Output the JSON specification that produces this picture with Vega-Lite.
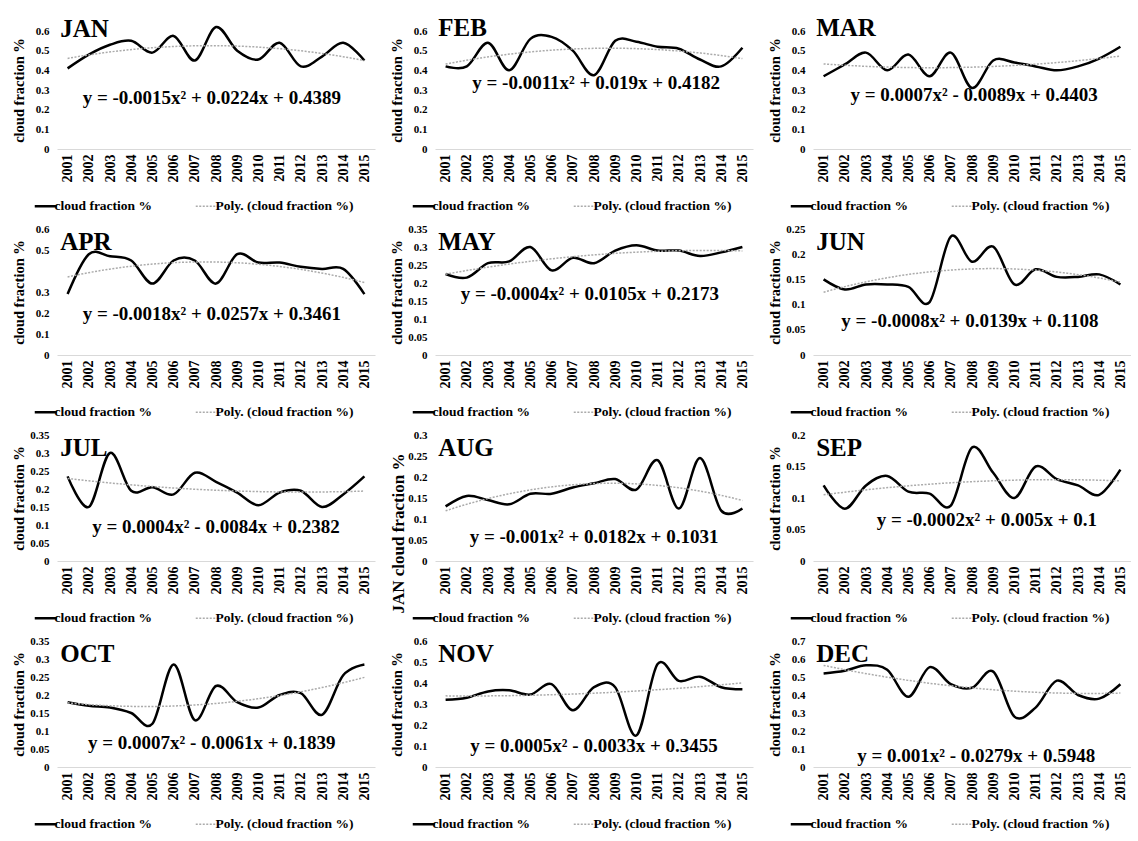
{
"$schema": "https://vega.github.io/schema/vega-lite/v6.json",
"background": "white",
"padding": {"left": 11, "top": 15, "right": 0, "bottom": 0},
"config": {
  "view": {"stroke": null},
  "font": "Liberation Serif",
  "axis": {"labelFont": "Liberation Serif", "labelFontWeight": "bold", "titleFont": "Liberation Serif", "titleFontWeight": "bold", "labelColor": "#000000", "titleColor": "#000000", "ticks": false, "grid": false},
  "axisX": {"labelAngle": -90, "labelFontSize": 14, "domainColor": "#d9d9d9", "domainWidth": 1, "labelPadding": 5, "labelOverlap": false, "labelFlush": false},
  "axisY": {"domain": false, "labelFontSize": 11, "titleFontSize": 14.5, "labelPadding": 8, "titlePadding": 6, "minExtent": 25, "maxExtent": 25, "labelOverlap": false},
  "legend": {"labelFont": "Liberation Serif", "labelFontWeight": "bold", "labelFontSize": 13.5, "labelColor": "#000000", "symbolType": "stroke", "symbolSize": 484, "symbolStrokeWidth": 2.5, "columnPadding": 40, "labelOffset": 2, "labelLimit": 300, "padding": 0},
  "text": {"font": "Liberation Serif", "fontWeight": "bold", "color": "#000000"}
},
"datasets": {
  "d": [
    {"m":"JAN","year":2001,"v":0.41},{"m":"JAN","year":2002,"v":0.48},{"m":"JAN","year":2003,"v":0.53},{"m":"JAN","year":2004,"v":0.55},{"m":"JAN","year":2005,"v":0.49},{"m":"JAN","year":2006,"v":0.575},{"m":"JAN","year":2007,"v":0.45},{"m":"JAN","year":2008,"v":0.62},{"m":"JAN","year":2009,"v":0.5},{"m":"JAN","year":2010,"v":0.455},{"m":"JAN","year":2011,"v":0.54},{"m":"JAN","year":2012,"v":0.42},{"m":"JAN","year":2013,"v":0.47},{"m":"JAN","year":2014,"v":0.54},{"m":"JAN","year":2015,"v":0.45},
    {"m":"FEB","year":2001,"v":0.42},{"m":"FEB","year":2002,"v":0.42},{"m":"FEB","year":2003,"v":0.54},{"m":"FEB","year":2004,"v":0.4},{"m":"FEB","year":2005,"v":0.56},{"m":"FEB","year":2006,"v":0.57},{"m":"FEB","year":2007,"v":0.5},{"m":"FEB","year":2008,"v":0.375},{"m":"FEB","year":2009,"v":0.55},{"m":"FEB","year":2010,"v":0.545},{"m":"FEB","year":2011,"v":0.52},{"m":"FEB","year":2012,"v":0.51},{"m":"FEB","year":2013,"v":0.455},{"m":"FEB","year":2014,"v":0.42},{"m":"FEB","year":2015,"v":0.515},
    {"m":"MAR","year":2001,"v":0.37},{"m":"MAR","year":2002,"v":0.43},{"m":"MAR","year":2003,"v":0.49},{"m":"MAR","year":2004,"v":0.4},{"m":"MAR","year":2005,"v":0.48},{"m":"MAR","year":2006,"v":0.37},{"m":"MAR","year":2007,"v":0.49},{"m":"MAR","year":2008,"v":0.31},{"m":"MAR","year":2009,"v":0.45},{"m":"MAR","year":2010,"v":0.44},{"m":"MAR","year":2011,"v":0.42},{"m":"MAR","year":2012,"v":0.4},{"m":"MAR","year":2013,"v":0.42},{"m":"MAR","year":2014,"v":0.46},{"m":"MAR","year":2015,"v":0.52},
    {"m":"APR","year":2001,"v":0.29},{"m":"APR","year":2002,"v":0.48},{"m":"APR","year":2003,"v":0.47},{"m":"APR","year":2004,"v":0.45},{"m":"APR","year":2005,"v":0.34},{"m":"APR","year":2006,"v":0.45},{"m":"APR","year":2007,"v":0.45},{"m":"APR","year":2008,"v":0.34},{"m":"APR","year":2009,"v":0.48},{"m":"APR","year":2010,"v":0.44},{"m":"APR","year":2011,"v":0.44},{"m":"APR","year":2012,"v":0.42},{"m":"APR","year":2013,"v":0.41},{"m":"APR","year":2014,"v":0.41},{"m":"APR","year":2015,"v":0.29},
    {"m":"MAY","year":2001,"v":0.225},{"m":"MAY","year":2002,"v":0.215},{"m":"MAY","year":2003,"v":0.255},{"m":"MAY","year":2004,"v":0.26},{"m":"MAY","year":2005,"v":0.3},{"m":"MAY","year":2006,"v":0.235},{"m":"MAY","year":2007,"v":0.27},{"m":"MAY","year":2008,"v":0.255},{"m":"MAY","year":2009,"v":0.29},{"m":"MAY","year":2010,"v":0.305},{"m":"MAY","year":2011,"v":0.29},{"m":"MAY","year":2012,"v":0.29},{"m":"MAY","year":2013,"v":0.275},{"m":"MAY","year":2014,"v":0.285},{"m":"MAY","year":2015,"v":0.3},
    {"m":"JUN","year":2001,"v":0.15},{"m":"JUN","year":2002,"v":0.13},{"m":"JUN","year":2003,"v":0.14},{"m":"JUN","year":2004,"v":0.14},{"m":"JUN","year":2005,"v":0.135},{"m":"JUN","year":2006,"v":0.105},{"m":"JUN","year":2007,"v":0.235},{"m":"JUN","year":2008,"v":0.185},{"m":"JUN","year":2009,"v":0.215},{"m":"JUN","year":2010,"v":0.14},{"m":"JUN","year":2011,"v":0.17},{"m":"JUN","year":2012,"v":0.155},{"m":"JUN","year":2013,"v":0.155},{"m":"JUN","year":2014,"v":0.16},{"m":"JUN","year":2015,"v":0.14},
    {"m":"JUL","year":2001,"v":0.235},{"m":"JUL","year":2002,"v":0.15},{"m":"JUL","year":2003,"v":0.3},{"m":"JUL","year":2004,"v":0.195},{"m":"JUL","year":2005,"v":0.205},{"m":"JUL","year":2006,"v":0.185},{"m":"JUL","year":2007,"v":0.245},{"m":"JUL","year":2008,"v":0.22},{"m":"JUL","year":2009,"v":0.19},{"m":"JUL","year":2010,"v":0.155},{"m":"JUL","year":2011,"v":0.19},{"m":"JUL","year":2012,"v":0.195},{"m":"JUL","year":2013,"v":0.15},{"m":"JUL","year":2014,"v":0.185},{"m":"JUL","year":2015,"v":0.235},
    {"m":"AUG","year":2001,"v":0.13},{"m":"AUG","year":2002,"v":0.155},{"m":"AUG","year":2003,"v":0.145},{"m":"AUG","year":2004,"v":0.135},{"m":"AUG","year":2005,"v":0.16},{"m":"AUG","year":2006,"v":0.16},{"m":"AUG","year":2007,"v":0.175},{"m":"AUG","year":2008,"v":0.185},{"m":"AUG","year":2009,"v":0.195},{"m":"AUG","year":2010,"v":0.17},{"m":"AUG","year":2011,"v":0.24},{"m":"AUG","year":2012,"v":0.125},{"m":"AUG","year":2013,"v":0.245},{"m":"AUG","year":2014,"v":0.12},{"m":"AUG","year":2015,"v":0.125},
    {"m":"SEP","year":2001,"v":0.12},{"m":"SEP","year":2002,"v":0.083},{"m":"SEP","year":2003,"v":0.12},{"m":"SEP","year":2004,"v":0.135},{"m":"SEP","year":2005,"v":0.11},{"m":"SEP","year":2006,"v":0.107},{"m":"SEP","year":2007,"v":0.088},{"m":"SEP","year":2008,"v":0.18},{"m":"SEP","year":2009,"v":0.14},{"m":"SEP","year":2010,"v":0.1},{"m":"SEP","year":2011,"v":0.15},{"m":"SEP","year":2012,"v":0.13},{"m":"SEP","year":2013,"v":0.12},{"m":"SEP","year":2014,"v":0.105},{"m":"SEP","year":2015,"v":0.145},
    {"m":"OCT","year":2001,"v":0.18},{"m":"OCT","year":2002,"v":0.17},{"m":"OCT","year":2003,"v":0.165},{"m":"OCT","year":2004,"v":0.15},{"m":"OCT","year":2005,"v":0.12},{"m":"OCT","year":2006,"v":0.285},{"m":"OCT","year":2007,"v":0.13},{"m":"OCT","year":2008,"v":0.225},{"m":"OCT","year":2009,"v":0.18},{"m":"OCT","year":2010,"v":0.165},{"m":"OCT","year":2011,"v":0.2},{"m":"OCT","year":2012,"v":0.205},{"m":"OCT","year":2013,"v":0.145},{"m":"OCT","year":2014,"v":0.255},{"m":"OCT","year":2015,"v":0.285},
    {"m":"NOV","year":2001,"v":0.32},{"m":"NOV","year":2002,"v":0.33},{"m":"NOV","year":2003,"v":0.36},{"m":"NOV","year":2004,"v":0.365},{"m":"NOV","year":2005,"v":0.345},{"m":"NOV","year":2006,"v":0.395},{"m":"NOV","year":2007,"v":0.27},{"m":"NOV","year":2008,"v":0.38},{"m":"NOV","year":2009,"v":0.38},{"m":"NOV","year":2010,"v":0.15},{"m":"NOV","year":2011,"v":0.49},{"m":"NOV","year":2012,"v":0.41},{"m":"NOV","year":2013,"v":0.43},{"m":"NOV","year":2014,"v":0.38},{"m":"NOV","year":2015,"v":0.37},
    {"m":"DEC","year":2001,"v":0.52},{"m":"DEC","year":2002,"v":0.535},{"m":"DEC","year":2003,"v":0.565},{"m":"DEC","year":2004,"v":0.54},{"m":"DEC","year":2005,"v":0.39},{"m":"DEC","year":2006,"v":0.555},{"m":"DEC","year":2007,"v":0.46},{"m":"DEC","year":2008,"v":0.44},{"m":"DEC","year":2009,"v":0.53},{"m":"DEC","year":2010,"v":0.28},{"m":"DEC","year":2011,"v":0.33},{"m":"DEC","year":2012,"v":0.48},{"m":"DEC","year":2013,"v":0.4},{"m":"DEC","year":2014,"v":0.38},{"m":"DEC","year":2015,"v":0.46}
  ],
  "lab": [
    {"m":"JAN","eq":"y = -0.0015x² + 0.0224x + 0.4389"},
    {"m":"FEB","eq":"y = -0.0011x² + 0.019x + 0.4182"},
    {"m":"MAR","eq":"y = 0.0007x² - 0.0089x + 0.4403"},
    {"m":"APR","eq":"y = -0.0018x² + 0.0257x + 0.3461"},
    {"m":"MAY","eq":"y = -0.0004x² + 0.0105x + 0.2173"},
    {"m":"JUN","eq":"y = -0.0008x² + 0.0139x + 0.1108"},
    {"m":"JUL","eq":"y = 0.0004x² - 0.0084x + 0.2382"},
    {"m":"AUG","eq":"y = -0.001x² + 0.0182x + 0.1031"},
    {"m":"SEP","eq":"y = -0.0002x² + 0.005x + 0.1"},
    {"m":"OCT","eq":"y = 0.0007x² - 0.0061x + 0.1839"},
    {"m":"NOV","eq":"y = 0.0005x² - 0.0033x + 0.3455"},
    {"m":"DEC","eq":"y = 0.001x² - 0.0279x + 0.5948"}
  ]
},
"spacing": 10,
"resolve": {"scale": {"x": "independent", "y": "independent", "color": "independent"}, "axis": {"x": "independent", "y": "independent"}, "legend": {"color": "independent"}},
"vconcat": [
 {"spacing": 14,
  "resolve": {"scale": {"x": "independent", "y": "independent", "color": "independent"}, "axis": {"x": "independent", "y": "independent"}, "legend": {"color": "independent"}},
  "hconcat": [
   {"width": 318, "height": 118, "layer": [
     {"data": {"name": "d"}, "transform": [{"filter": "datum.m === 'JAN'"}], "mark": {"type": "line", "interpolate": "cardinal", "strokeWidth": 2.5},
      "encoding": {
       "color": {"datum": "cloud fraction %", "scale": {"domain": ["cloud fraction %", "Poly. (cloud fraction %)"], "range": ["#000000", "#ababab"]}, "legend": {"title": null, "orient": "none", "direction": "horizontal", "legendX": -18, "legendY": 168, "encode": {"symbols": {"update": {"strokeDash": {"signal": "datum.value === 'cloud fraction %' ? [1, 0] : [2, 1.5]"}, "strokeWidth": {"signal": "datum.value === 'cloud fraction %' ? 2.5 : 1.5"}}}}}},
       "x": {"field": "year", "type": "quantitative", "scale": {"domain": [2000.5, 2015.5], "nice": false, "zero": false}, "axis": {"values": [2001,2002,2003,2004,2005,2006,2007,2008,2009,2010,2011,2012,2013,2014,2015], "tickCount": 15, "format": "d", "title": null, "labelOverlap": false}},
       "y": {"field": "v", "type": "quantitative", "scale": {"domain": [0, 0.6], "nice": false}, "axis": {"values": [0,0.1,0.2,0.3,0.4,0.5,0.6], "tickCount": 10, "format": "~g", "title": "cloud fraction %", "labelOverlap": false}}
      }},
     {"data": {"name": "d"}, "transform": [{"filter": "datum.m === 'JAN'"}, {"regression": "v", "on": "year", "method": "poly", "order": 2, "extent": [2001, 2015]}], "mark": {"type": "line", "strokeWidth": 1.5, "strokeDash": [2, 1.5]},
      "encoding": {"x": {"field": "year", "type": "quantitative"}, "y": {"field": "v", "type": "quantitative"}, "color": {"datum": "Poly. (cloud fraction %)"}}},
     {"data": {"name": "lab"}, "transform": [{"filter": "datum.m === 'JAN'"}], "mark": {"type": "text", "fontSize": 25, "align": "left", "baseline": "alphabetic"},
      "encoding": {"x": {"datum": 2000.65, "type": "quantitative"}, "y": {"datum": 0.57, "type": "quantitative"}, "text": {"field": "m"}}},
     {"data": {"name": "lab"}, "transform": [{"filter": "datum.m === 'JAN'"}], "mark": {"type": "text", "fontSize": 19, "align": "center", "baseline": "middle"},
      "encoding": {"x": {"datum": 2007.8, "type": "quantitative"}, "y": {"datum": 0.258, "type": "quantitative"}, "text": {"field": "eq"}}}
   ]},
   {"width": 318, "height": 118, "layer": [
     {"data": {"name": "d"}, "transform": [{"filter": "datum.m === 'FEB'"}], "mark": {"type": "line", "interpolate": "cardinal", "strokeWidth": 2.5},
      "encoding": {
       "color": {"datum": "cloud fraction %", "scale": {"domain": ["cloud fraction %", "Poly. (cloud fraction %)"], "range": ["#000000", "#ababab"]}, "legend": {"title": null, "orient": "none", "direction": "horizontal", "legendX": -18, "legendY": 168, "encode": {"symbols": {"update": {"strokeDash": {"signal": "datum.value === 'cloud fraction %' ? [1, 0] : [2, 1.5]"}, "strokeWidth": {"signal": "datum.value === 'cloud fraction %' ? 2.5 : 1.5"}}}}}},
       "x": {"field": "year", "type": "quantitative", "scale": {"domain": [2000.5, 2015.5], "nice": false, "zero": false}, "axis": {"values": [2001,2002,2003,2004,2005,2006,2007,2008,2009,2010,2011,2012,2013,2014,2015], "tickCount": 15, "format": "d", "title": null, "labelOverlap": false}},
       "y": {"field": "v", "type": "quantitative", "scale": {"domain": [0, 0.6], "nice": false}, "axis": {"values": [0,0.1,0.2,0.3,0.4,0.5,0.6], "tickCount": 10, "format": "~g", "title": "cloud fraction %", "labelOverlap": false}}
      }},
     {"data": {"name": "d"}, "transform": [{"filter": "datum.m === 'FEB'"}, {"regression": "v", "on": "year", "method": "poly", "order": 2, "extent": [2001, 2015]}], "mark": {"type": "line", "strokeWidth": 1.5, "strokeDash": [2, 1.5]},
      "encoding": {"x": {"field": "year", "type": "quantitative"}, "y": {"field": "v", "type": "quantitative"}, "color": {"datum": "Poly. (cloud fraction %)"}}},
     {"data": {"name": "lab"}, "transform": [{"filter": "datum.m === 'FEB'"}], "mark": {"type": "text", "fontSize": 25, "align": "left", "baseline": "alphabetic"},
      "encoding": {"x": {"datum": 2000.65, "type": "quantitative"}, "y": {"datum": 0.575, "type": "quantitative"}, "text": {"field": "m"}}},
     {"data": {"name": "lab"}, "transform": [{"filter": "datum.m === 'FEB'"}], "mark": {"type": "text", "fontSize": 19, "align": "center", "baseline": "middle"},
      "encoding": {"x": {"datum": 2008.1, "type": "quantitative"}, "y": {"datum": 0.337, "type": "quantitative"}, "text": {"field": "eq"}}}
   ]},
   {"width": 318, "height": 118, "layer": [
     {"data": {"name": "d"}, "transform": [{"filter": "datum.m === 'MAR'"}], "mark": {"type": "line", "interpolate": "cardinal", "strokeWidth": 2.5},
      "encoding": {
       "color": {"datum": "cloud fraction %", "scale": {"domain": ["cloud fraction %", "Poly. (cloud fraction %)"], "range": ["#000000", "#ababab"]}, "legend": {"title": null, "orient": "none", "direction": "horizontal", "legendX": -18, "legendY": 168, "encode": {"symbols": {"update": {"strokeDash": {"signal": "datum.value === 'cloud fraction %' ? [1, 0] : [2, 1.5]"}, "strokeWidth": {"signal": "datum.value === 'cloud fraction %' ? 2.5 : 1.5"}}}}}},
       "x": {"field": "year", "type": "quantitative", "scale": {"domain": [2000.5, 2015.5], "nice": false, "zero": false}, "axis": {"values": [2001,2002,2003,2004,2005,2006,2007,2008,2009,2010,2011,2012,2013,2014,2015], "tickCount": 15, "format": "d", "title": null, "labelOverlap": false}},
       "y": {"field": "v", "type": "quantitative", "scale": {"domain": [0, 0.6], "nice": false}, "axis": {"values": [0,0.1,0.2,0.3,0.4,0.5,0.6], "tickCount": 10, "format": "~g", "title": "cloud fraction %", "labelOverlap": false}}
      }},
     {"data": {"name": "d"}, "transform": [{"filter": "datum.m === 'MAR'"}, {"regression": "v", "on": "year", "method": "poly", "order": 2, "extent": [2001, 2015]}], "mark": {"type": "line", "strokeWidth": 1.5, "strokeDash": [2, 1.5]},
      "encoding": {"x": {"field": "year", "type": "quantitative"}, "y": {"field": "v", "type": "quantitative"}, "color": {"datum": "Poly. (cloud fraction %)"}}},
     {"data": {"name": "lab"}, "transform": [{"filter": "datum.m === 'MAR'"}], "mark": {"type": "text", "fontSize": 25, "align": "left", "baseline": "alphabetic"},
      "encoding": {"x": {"datum": 2000.65, "type": "quantitative"}, "y": {"datum": 0.575, "type": "quantitative"}, "text": {"field": "m"}}},
     {"data": {"name": "lab"}, "transform": [{"filter": "datum.m === 'MAR'"}], "mark": {"type": "text", "fontSize": 19, "align": "center", "baseline": "middle"},
      "encoding": {"x": {"datum": 2008.1, "type": "quantitative"}, "y": {"datum": 0.274, "type": "quantitative"}, "text": {"field": "eq"}}}
   ]}
  ]},
 {"spacing": 14,
  "resolve": {"scale": {"x": "independent", "y": "independent", "color": "independent"}, "axis": {"x": "independent", "y": "independent"}, "legend": {"color": "independent"}},
  "hconcat": [
   {"width": 318, "height": 126, "layer": [
     {"data": {"name": "d"}, "transform": [{"filter": "datum.m === 'APR'"}], "mark": {"type": "line", "interpolate": "cardinal", "strokeWidth": 2.5},
      "encoding": {
       "color": {"datum": "cloud fraction %", "scale": {"domain": ["cloud fraction %", "Poly. (cloud fraction %)"], "range": ["#000000", "#ababab"]}, "legend": {"title": null, "orient": "none", "direction": "horizontal", "legendX": -18, "legendY": 176, "encode": {"symbols": {"update": {"strokeDash": {"signal": "datum.value === 'cloud fraction %' ? [1, 0] : [2, 1.5]"}, "strokeWidth": {"signal": "datum.value === 'cloud fraction %' ? 2.5 : 1.5"}}}}}},
       "x": {"field": "year", "type": "quantitative", "scale": {"domain": [2000.5, 2015.5], "nice": false, "zero": false}, "axis": {"values": [2001,2002,2003,2004,2005,2006,2007,2008,2009,2010,2011,2012,2013,2014,2015], "tickCount": 15, "format": "d", "title": null, "labelOverlap": false}},
       "y": {"field": "v", "type": "quantitative", "scale": {"domain": [0, 0.6], "nice": false}, "axis": {"values": [0,0.1,0.2,0.3,0.5,0.6], "tickCount": 10, "format": "~g", "title": "cloud fraction %", "labelOverlap": false}}
      }},
     {"data": {"name": "d"}, "transform": [{"filter": "datum.m === 'APR'"}, {"regression": "v", "on": "year", "method": "poly", "order": 2, "extent": [2001, 2015]}], "mark": {"type": "line", "strokeWidth": 1.5, "strokeDash": [2, 1.5]},
      "encoding": {"x": {"field": "year", "type": "quantitative"}, "y": {"field": "v", "type": "quantitative"}, "color": {"datum": "Poly. (cloud fraction %)"}}},
     {"data": {"name": "lab"}, "transform": [{"filter": "datum.m === 'APR'"}], "mark": {"type": "text", "fontSize": 25, "align": "left", "baseline": "alphabetic"},
      "encoding": {"x": {"datum": 2000.65, "type": "quantitative"}, "y": {"datum": 0.5, "type": "quantitative"}, "text": {"field": "m"}}},
     {"data": {"name": "lab"}, "transform": [{"filter": "datum.m === 'APR'"}], "mark": {"type": "text", "fontSize": 19, "align": "center", "baseline": "middle"},
      "encoding": {"x": {"datum": 2007.8, "type": "quantitative"}, "y": {"datum": 0.195, "type": "quantitative"}, "text": {"field": "eq"}}}
   ]},
   {"width": 318, "height": 126, "layer": [
     {"data": {"name": "d"}, "transform": [{"filter": "datum.m === 'MAY'"}], "mark": {"type": "line", "interpolate": "cardinal", "strokeWidth": 2.5},
      "encoding": {
       "color": {"datum": "cloud fraction %", "scale": {"domain": ["cloud fraction %", "Poly. (cloud fraction %)"], "range": ["#000000", "#ababab"]}, "legend": {"title": null, "orient": "none", "direction": "horizontal", "legendX": -18, "legendY": 176, "encode": {"symbols": {"update": {"strokeDash": {"signal": "datum.value === 'cloud fraction %' ? [1, 0] : [2, 1.5]"}, "strokeWidth": {"signal": "datum.value === 'cloud fraction %' ? 2.5 : 1.5"}}}}}},
       "x": {"field": "year", "type": "quantitative", "scale": {"domain": [2000.5, 2015.5], "nice": false, "zero": false}, "axis": {"values": [2001,2002,2003,2004,2005,2006,2007,2008,2009,2010,2011,2012,2013,2014,2015], "tickCount": 15, "format": "d", "title": null, "labelOverlap": false}},
       "y": {"field": "v", "type": "quantitative", "scale": {"domain": [0, 0.35], "nice": false}, "axis": {"values": [0,0.05,0.1,0.15,0.2,0.25,0.3,0.35], "tickCount": 10, "format": "~g", "title": "cloud fraction %", "labelOverlap": false}}
      }},
     {"data": {"name": "d"}, "transform": [{"filter": "datum.m === 'MAY'"}, {"regression": "v", "on": "year", "method": "poly", "order": 2, "extent": [2001, 2015]}], "mark": {"type": "line", "strokeWidth": 1.5, "strokeDash": [2, 1.5]},
      "encoding": {"x": {"field": "year", "type": "quantitative"}, "y": {"field": "v", "type": "quantitative"}, "color": {"datum": "Poly. (cloud fraction %)"}}},
     {"data": {"name": "lab"}, "transform": [{"filter": "datum.m === 'MAY'"}], "mark": {"type": "text", "fontSize": 25, "align": "left", "baseline": "alphabetic"},
      "encoding": {"x": {"datum": 2000.65, "type": "quantitative"}, "y": {"datum": 0.292, "type": "quantitative"}, "text": {"field": "m"}}},
     {"data": {"name": "lab"}, "transform": [{"filter": "datum.m === 'MAY'"}], "mark": {"type": "text", "fontSize": 19, "align": "center", "baseline": "middle"},
      "encoding": {"x": {"datum": 2007.8, "type": "quantitative"}, "y": {"datum": 0.169, "type": "quantitative"}, "text": {"field": "eq"}}}
   ]},
   {"width": 318, "height": 126, "layer": [
     {"data": {"name": "d"}, "transform": [{"filter": "datum.m === 'JUN'"}], "mark": {"type": "line", "interpolate": "cardinal", "strokeWidth": 2.5},
      "encoding": {
       "color": {"datum": "cloud fraction %", "scale": {"domain": ["cloud fraction %", "Poly. (cloud fraction %)"], "range": ["#000000", "#ababab"]}, "legend": {"title": null, "orient": "none", "direction": "horizontal", "legendX": -18, "legendY": 176, "encode": {"symbols": {"update": {"strokeDash": {"signal": "datum.value === 'cloud fraction %' ? [1, 0] : [2, 1.5]"}, "strokeWidth": {"signal": "datum.value === 'cloud fraction %' ? 2.5 : 1.5"}}}}}},
       "x": {"field": "year", "type": "quantitative", "scale": {"domain": [2000.5, 2015.5], "nice": false, "zero": false}, "axis": {"values": [2001,2002,2003,2004,2005,2006,2007,2008,2009,2010,2011,2012,2013,2014,2015], "tickCount": 15, "format": "d", "title": null, "labelOverlap": false}},
       "y": {"field": "v", "type": "quantitative", "scale": {"domain": [0, 0.25], "nice": false}, "axis": {"values": [0,0.05,0.1,0.15,0.2,0.25], "tickCount": 10, "format": "~g", "title": "cloud fraction %", "labelOverlap": false}}
      }},
     {"data": {"name": "d"}, "transform": [{"filter": "datum.m === 'JUN'"}, {"regression": "v", "on": "year", "method": "poly", "order": 2, "extent": [2001, 2015]}], "mark": {"type": "line", "strokeWidth": 1.5, "strokeDash": [2, 1.5]},
      "encoding": {"x": {"field": "year", "type": "quantitative"}, "y": {"field": "v", "type": "quantitative"}, "color": {"datum": "Poly. (cloud fraction %)"}}},
     {"data": {"name": "lab"}, "transform": [{"filter": "datum.m === 'JUN'"}], "mark": {"type": "text", "fontSize": 25, "align": "left", "baseline": "alphabetic"},
      "encoding": {"x": {"datum": 2000.65, "type": "quantitative"}, "y": {"datum": 0.208, "type": "quantitative"}, "text": {"field": "m"}}},
     {"data": {"name": "lab"}, "transform": [{"filter": "datum.m === 'JUN'"}], "mark": {"type": "text", "fontSize": 19, "align": "center", "baseline": "middle"},
      "encoding": {"x": {"datum": 2007.9, "type": "quantitative"}, "y": {"datum": 0.067, "type": "quantitative"}, "text": {"field": "eq"}}}
   ]}
  ]},
 {"spacing": 14,
  "resolve": {"scale": {"x": "independent", "y": "independent", "color": "independent"}, "axis": {"x": "independent", "y": "independent"}, "legend": {"color": "independent"}},
  "hconcat": [
   {"width": 318, "height": 126, "layer": [
     {"data": {"name": "d"}, "transform": [{"filter": "datum.m === 'JUL'"}], "mark": {"type": "line", "interpolate": "cardinal", "strokeWidth": 2.5},
      "encoding": {
       "color": {"datum": "cloud fraction %", "scale": {"domain": ["cloud fraction %", "Poly. (cloud fraction %)"], "range": ["#000000", "#ababab"]}, "legend": {"title": null, "orient": "none", "direction": "horizontal", "legendX": -18, "legendY": 176, "encode": {"symbols": {"update": {"strokeDash": {"signal": "datum.value === 'cloud fraction %' ? [1, 0] : [2, 1.5]"}, "strokeWidth": {"signal": "datum.value === 'cloud fraction %' ? 2.5 : 1.5"}}}}}},
       "x": {"field": "year", "type": "quantitative", "scale": {"domain": [2000.5, 2015.5], "nice": false, "zero": false}, "axis": {"values": [2001,2002,2003,2004,2005,2006,2007,2008,2009,2010,2011,2012,2013,2014,2015], "tickCount": 15, "format": "d", "title": null, "labelOverlap": false}},
       "y": {"field": "v", "type": "quantitative", "scale": {"domain": [0, 0.35], "nice": false}, "axis": {"values": [0,0.05,0.1,0.15,0.2,0.25,0.3,0.35], "tickCount": 10, "format": "~g", "title": "cloud fraction %", "labelOverlap": false}}
      }},
     {"data": {"name": "d"}, "transform": [{"filter": "datum.m === 'JUL'"}, {"regression": "v", "on": "year", "method": "poly", "order": 2, "extent": [2001, 2015]}], "mark": {"type": "line", "strokeWidth": 1.5, "strokeDash": [2, 1.5]},
      "encoding": {"x": {"field": "year", "type": "quantitative"}, "y": {"field": "v", "type": "quantitative"}, "color": {"datum": "Poly. (cloud fraction %)"}}},
     {"data": {"name": "lab"}, "transform": [{"filter": "datum.m === 'JUL'"}], "mark": {"type": "text", "fontSize": 25, "align": "left", "baseline": "alphabetic"},
      "encoding": {"x": {"datum": 2000.65, "type": "quantitative"}, "y": {"datum": 0.292, "type": "quantitative"}, "text": {"field": "m"}}},
     {"data": {"name": "lab"}, "transform": [{"filter": "datum.m === 'JUL'"}], "mark": {"type": "text", "fontSize": 19, "align": "center", "baseline": "middle"},
      "encoding": {"x": {"datum": 2008.0, "type": "quantitative"}, "y": {"datum": 0.094, "type": "quantitative"}, "text": {"field": "eq"}}}
   ]},
   {"width": 318, "height": 126, "layer": [
     {"data": {"name": "d"}, "transform": [{"filter": "datum.m === 'AUG'"}], "mark": {"type": "line", "interpolate": "cardinal", "strokeWidth": 2.5},
      "encoding": {
       "color": {"datum": "cloud fraction %", "scale": {"domain": ["cloud fraction %", "Poly. (cloud fraction %)"], "range": ["#000000", "#ababab"]}, "legend": {"title": null, "orient": "none", "direction": "horizontal", "legendX": -18, "legendY": 176, "encode": {"symbols": {"update": {"strokeDash": {"signal": "datum.value === 'cloud fraction %' ? [1, 0] : [2, 1.5]"}, "strokeWidth": {"signal": "datum.value === 'cloud fraction %' ? 2.5 : 1.5"}}}}}},
       "x": {"field": "year", "type": "quantitative", "scale": {"domain": [2000.5, 2015.5], "nice": false, "zero": false}, "axis": {"values": [2001,2002,2003,2004,2005,2006,2007,2008,2009,2010,2011,2012,2013,2014,2015], "tickCount": 15, "format": "d", "title": null, "labelOverlap": false}},
       "y": {"field": "v", "type": "quantitative", "scale": {"domain": [0, 0.3], "nice": false}, "axis": {"values": [0,0.05,0.1,0.15,0.2,0.25,0.3], "tickCount": 10, "format": "~g", "title": "JAN cloud fraction %", "titleFontSize": 17, "titlePadding": 3, "titleY": 98, "labelOverlap": false}}
      }},
     {"data": {"name": "d"}, "transform": [{"filter": "datum.m === 'AUG'"}, {"regression": "v", "on": "year", "method": "poly", "order": 2, "extent": [2001, 2015]}], "mark": {"type": "line", "strokeWidth": 1.5, "strokeDash": [2, 1.5]},
      "encoding": {"x": {"field": "year", "type": "quantitative"}, "y": {"field": "v", "type": "quantitative"}, "color": {"datum": "Poly. (cloud fraction %)"}}},
     {"data": {"name": "lab"}, "transform": [{"filter": "datum.m === 'AUG'"}], "mark": {"type": "text", "fontSize": 25, "align": "left", "baseline": "alphabetic"},
      "encoding": {"x": {"datum": 2000.65, "type": "quantitative"}, "y": {"datum": 0.25, "type": "quantitative"}, "text": {"field": "m"}}},
     {"data": {"name": "lab"}, "transform": [{"filter": "datum.m === 'AUG'"}], "mark": {"type": "text", "fontSize": 19, "align": "center", "baseline": "middle"},
      "encoding": {"x": {"datum": 2008.0, "type": "quantitative"}, "y": {"datum": 0.057, "type": "quantitative"}, "text": {"field": "eq"}}}
   ]},
   {"width": 318, "height": 126, "layer": [
     {"data": {"name": "d"}, "transform": [{"filter": "datum.m === 'SEP'"}], "mark": {"type": "line", "interpolate": "cardinal", "strokeWidth": 2.5},
      "encoding": {
       "color": {"datum": "cloud fraction %", "scale": {"domain": ["cloud fraction %", "Poly. (cloud fraction %)"], "range": ["#000000", "#ababab"]}, "legend": {"title": null, "orient": "none", "direction": "horizontal", "legendX": -18, "legendY": 176, "encode": {"symbols": {"update": {"strokeDash": {"signal": "datum.value === 'cloud fraction %' ? [1, 0] : [2, 1.5]"}, "strokeWidth": {"signal": "datum.value === 'cloud fraction %' ? 2.5 : 1.5"}}}}}},
       "x": {"field": "year", "type": "quantitative", "scale": {"domain": [2000.5, 2015.5], "nice": false, "zero": false}, "axis": {"values": [2001,2002,2003,2004,2005,2006,2007,2008,2009,2010,2011,2012,2013,2014,2015], "tickCount": 15, "format": "d", "title": null, "labelOverlap": false}},
       "y": {"field": "v", "type": "quantitative", "scale": {"domain": [0, 0.2], "nice": false}, "axis": {"values": [0,0.05,0.1,0.15,0.2], "tickCount": 10, "format": "~g", "title": "cloud fraction %", "labelOverlap": false}}
      }},
     {"data": {"name": "d"}, "transform": [{"filter": "datum.m === 'SEP'"}, {"regression": "v", "on": "year", "method": "poly", "order": 2, "extent": [2001, 2015]}], "mark": {"type": "line", "strokeWidth": 1.5, "strokeDash": [2, 1.5]},
      "encoding": {"x": {"field": "year", "type": "quantitative"}, "y": {"field": "v", "type": "quantitative"}, "color": {"datum": "Poly. (cloud fraction %)"}}},
     {"data": {"name": "lab"}, "transform": [{"filter": "datum.m === 'SEP'"}], "mark": {"type": "text", "fontSize": 25, "align": "left", "baseline": "alphabetic"},
      "encoding": {"x": {"datum": 2000.65, "type": "quantitative"}, "y": {"datum": 0.167, "type": "quantitative"}, "text": {"field": "m"}}},
     {"data": {"name": "lab"}, "transform": [{"filter": "datum.m === 'SEP'"}], "mark": {"type": "text", "fontSize": 19, "align": "center", "baseline": "middle"},
      "encoding": {"x": {"datum": 2008.7, "type": "quantitative"}, "y": {"datum": 0.065, "type": "quantitative"}, "text": {"field": "eq"}}}
   ]}
  ]},
 {"spacing": 14,
  "resolve": {"scale": {"x": "independent", "y": "independent", "color": "independent"}, "axis": {"x": "independent", "y": "independent"}, "legend": {"color": "independent"}},
  "hconcat": [
   {"width": 318, "height": 126, "layer": [
     {"data": {"name": "d"}, "transform": [{"filter": "datum.m === 'OCT'"}], "mark": {"type": "line", "interpolate": "cardinal", "strokeWidth": 2.5},
      "encoding": {
       "color": {"datum": "cloud fraction %", "scale": {"domain": ["cloud fraction %", "Poly. (cloud fraction %)"], "range": ["#000000", "#ababab"]}, "legend": {"title": null, "orient": "none", "direction": "horizontal", "legendX": -18, "legendY": 176, "encode": {"symbols": {"update": {"strokeDash": {"signal": "datum.value === 'cloud fraction %' ? [1, 0] : [2, 1.5]"}, "strokeWidth": {"signal": "datum.value === 'cloud fraction %' ? 2.5 : 1.5"}}}}}},
       "x": {"field": "year", "type": "quantitative", "scale": {"domain": [2000.5, 2015.5], "nice": false, "zero": false}, "axis": {"values": [2001,2002,2003,2004,2005,2006,2007,2008,2009,2010,2011,2012,2013,2014,2015], "tickCount": 15, "format": "d", "title": null, "labelOverlap": false}},
       "y": {"field": "v", "type": "quantitative", "scale": {"domain": [0, 0.35], "nice": false}, "axis": {"values": [0,0.05,0.1,0.15,0.2,0.25,0.3,0.35], "tickCount": 10, "format": "~g", "title": "cloud fraction %", "labelOverlap": false}}
      }},
     {"data": {"name": "d"}, "transform": [{"filter": "datum.m === 'OCT'"}, {"regression": "v", "on": "year", "method": "poly", "order": 2, "extent": [2001, 2015]}], "mark": {"type": "line", "strokeWidth": 1.5, "strokeDash": [2, 1.5]},
      "encoding": {"x": {"field": "year", "type": "quantitative"}, "y": {"field": "v", "type": "quantitative"}, "color": {"datum": "Poly. (cloud fraction %)"}}},
     {"data": {"name": "lab"}, "transform": [{"filter": "datum.m === 'OCT'"}], "mark": {"type": "text", "fontSize": 25, "align": "left", "baseline": "alphabetic"},
      "encoding": {"x": {"datum": 2000.65, "type": "quantitative"}, "y": {"datum": 0.292, "type": "quantitative"}, "text": {"field": "m"}}},
     {"data": {"name": "lab"}, "transform": [{"filter": "datum.m === 'OCT'"}], "mark": {"type": "text", "fontSize": 19, "align": "center", "baseline": "middle"},
      "encoding": {"x": {"datum": 2007.8, "type": "quantitative"}, "y": {"datum": 0.067, "type": "quantitative"}, "text": {"field": "eq"}}}
   ]},
   {"width": 318, "height": 126, "layer": [
     {"data": {"name": "d"}, "transform": [{"filter": "datum.m === 'NOV'"}], "mark": {"type": "line", "interpolate": "cardinal", "strokeWidth": 2.5},
      "encoding": {
       "color": {"datum": "cloud fraction %", "scale": {"domain": ["cloud fraction %", "Poly. (cloud fraction %)"], "range": ["#000000", "#ababab"]}, "legend": {"title": null, "orient": "none", "direction": "horizontal", "legendX": -18, "legendY": 176, "encode": {"symbols": {"update": {"strokeDash": {"signal": "datum.value === 'cloud fraction %' ? [1, 0] : [2, 1.5]"}, "strokeWidth": {"signal": "datum.value === 'cloud fraction %' ? 2.5 : 1.5"}}}}}},
       "x": {"field": "year", "type": "quantitative", "scale": {"domain": [2000.5, 2015.5], "nice": false, "zero": false}, "axis": {"values": [2001,2002,2003,2004,2005,2006,2007,2008,2009,2010,2011,2012,2013,2014,2015], "tickCount": 15, "format": "d", "title": null, "labelOverlap": false}},
       "y": {"field": "v", "type": "quantitative", "scale": {"domain": [0, 0.6], "nice": false}, "axis": {"values": [0,0.1,0.2,0.3,0.4,0.5,0.6], "tickCount": 10, "format": "~g", "title": "cloud fraction %", "labelOverlap": false}}
      }},
     {"data": {"name": "d"}, "transform": [{"filter": "datum.m === 'NOV'"}, {"regression": "v", "on": "year", "method": "poly", "order": 2, "extent": [2001, 2015]}], "mark": {"type": "line", "strokeWidth": 1.5, "strokeDash": [2, 1.5]},
      "encoding": {"x": {"field": "year", "type": "quantitative"}, "y": {"field": "v", "type": "quantitative"}, "color": {"datum": "Poly. (cloud fraction %)"}}},
     {"data": {"name": "lab"}, "transform": [{"filter": "datum.m === 'NOV'"}], "mark": {"type": "text", "fontSize": 25, "align": "left", "baseline": "alphabetic"},
      "encoding": {"x": {"datum": 2000.65, "type": "quantitative"}, "y": {"datum": 0.5, "type": "quantitative"}, "text": {"field": "m"}}},
     {"data": {"name": "lab"}, "transform": [{"filter": "datum.m === 'NOV'"}], "mark": {"type": "text", "fontSize": 19, "align": "center", "baseline": "middle"},
      "encoding": {"x": {"datum": 2008.0, "type": "quantitative"}, "y": {"datum": 0.1, "type": "quantitative"}, "text": {"field": "eq"}}}
   ]},
   {"width": 318, "height": 126, "layer": [
     {"data": {"name": "d"}, "transform": [{"filter": "datum.m === 'DEC'"}], "mark": {"type": "line", "interpolate": "cardinal", "strokeWidth": 2.5},
      "encoding": {
       "color": {"datum": "cloud fraction %", "scale": {"domain": ["cloud fraction %", "Poly. (cloud fraction %)"], "range": ["#000000", "#ababab"]}, "legend": {"title": null, "orient": "none", "direction": "horizontal", "legendX": -18, "legendY": 176, "encode": {"symbols": {"update": {"strokeDash": {"signal": "datum.value === 'cloud fraction %' ? [1, 0] : [2, 1.5]"}, "strokeWidth": {"signal": "datum.value === 'cloud fraction %' ? 2.5 : 1.5"}}}}}},
       "x": {"field": "year", "type": "quantitative", "scale": {"domain": [2000.5, 2015.5], "nice": false, "zero": false}, "axis": {"values": [2001,2002,2003,2004,2005,2006,2007,2008,2009,2010,2011,2012,2013,2014,2015], "tickCount": 15, "format": "d", "title": null, "labelOverlap": false}},
       "y": {"field": "v", "type": "quantitative", "scale": {"domain": [0, 0.7], "nice": false}, "axis": {"values": [0,0.1,0.2,0.3,0.4,0.5,0.6,0.7], "tickCount": 10, "format": "~g", "title": "cloud fraction %", "labelOverlap": false}}
      }},
     {"data": {"name": "d"}, "transform": [{"filter": "datum.m === 'DEC'"}, {"regression": "v", "on": "year", "method": "poly", "order": 2, "extent": [2001, 2015]}], "mark": {"type": "line", "strokeWidth": 1.5, "strokeDash": [2, 1.5]},
      "encoding": {"x": {"field": "year", "type": "quantitative"}, "y": {"field": "v", "type": "quantitative"}, "color": {"datum": "Poly. (cloud fraction %)"}}},
     {"data": {"name": "lab"}, "transform": [{"filter": "datum.m === 'DEC'"}], "mark": {"type": "text", "fontSize": 25, "align": "left", "baseline": "alphabetic"},
      "encoding": {"x": {"datum": 2000.65, "type": "quantitative"}, "y": {"datum": 0.583, "type": "quantitative"}, "text": {"field": "m"}}},
     {"data": {"name": "lab"}, "transform": [{"filter": "datum.m === 'DEC'"}], "mark": {"type": "text", "fontSize": 19, "align": "center", "baseline": "middle"},
      "encoding": {"x": {"datum": 2008.2, "type": "quantitative"}, "y": {"datum": 0.061, "type": "quantitative"}, "text": {"field": "eq"}}}
   ]}
  ]}
]
}
